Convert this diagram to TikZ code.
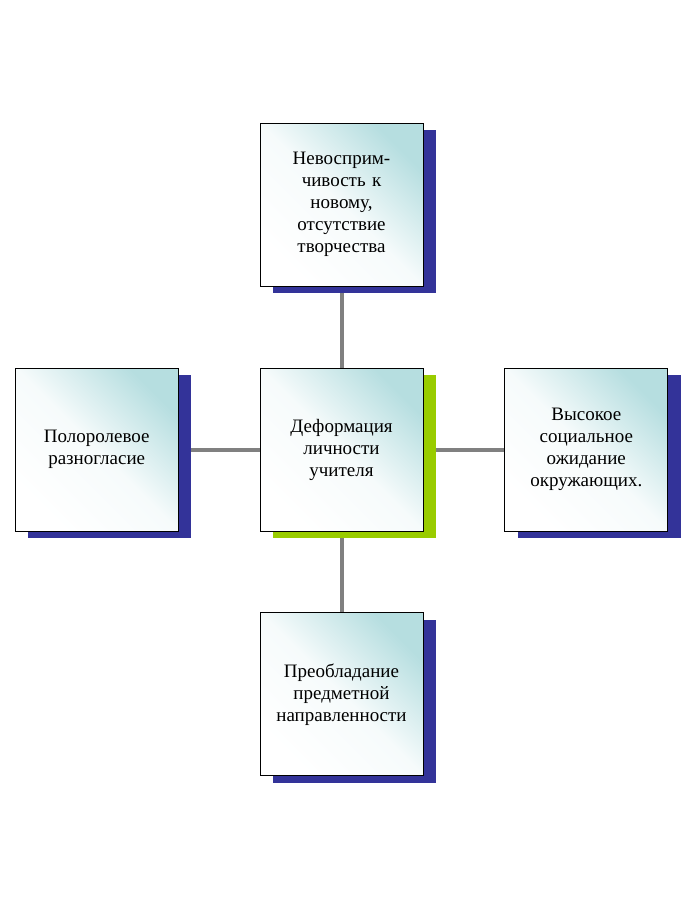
\documentclass[tikz,border=0pt]{standalone}
\usepackage{fontspec}
\setmainfont{Liberation Serif}
\usetikzlibrary{positioning, shadows, backgrounds}
\definecolor{deepblue}{RGB}{51,51,153}
\definecolor{leafgreen}{RGB}{153,204,0}
\definecolor{paleteal}{RGB}{182,222,224}
\definecolor{linkgray}{RGB}{128,128,128}
\tikzset{
  card/.style={draw=black, line width=0.8pt, minimum width=163pt, minimum height=163pt,
    text width=155pt, align=center, inner sep=0pt,
    top color=paleteal, bottom color=white, middle color=paleteal!12, shading angle=-45,
    font=\fontsize{19}{22}\selectfont},
  blueshade/.style={drop shadow={shadow xshift=13pt, shadow yshift=-7pt, fill=deepblue, opacity=1}},
  greenshade/.style={drop shadow={shadow xshift=13pt, shadow yshift=-7pt, fill=leafgreen, opacity=1}},
  link/.style={draw=linkgray, line width=4pt}
}
\begin{document}
\begin{tikzpicture}[node distance=81pt]
\useasboundingbox (0,0) rectangle (684pt,-901pt);
\node [card, greenshade] (deform) at (341.5pt,-449.5pt) {Деформация\\личности\\учителя};
\node [card, blueshade, above=of deform] (novelty) {Невосприм-\\чивость к\\новому,\\отсутствие\\творчества};
\node [card, blueshade, left=of deform] (roles) {Полоролевое\\разногласие};
\node [card, blueshade, right=of deform] (expect) {Высокое\\социальное\\ожидание\\окружающих.};
\node [card, blueshade, below=of deform] (subject) {Преобладание\\предметной\\направленности};
% connectors behind the cards
\begin{scope}[on background layer]
\draw [link] (deform) -- (novelty);
\draw [link] (deform) -- (roles);
\draw [link] (deform) -- (expect);
\draw [link] (deform) -- (subject);
\end{scope}
\end{tikzpicture}
\end{document}
